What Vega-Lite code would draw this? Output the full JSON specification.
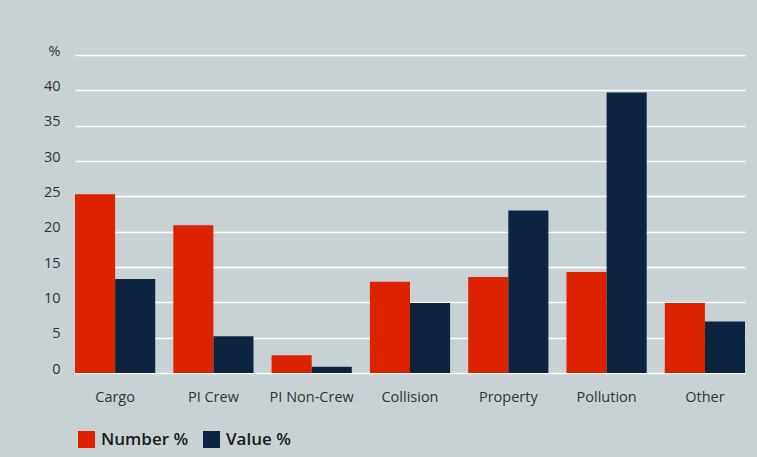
{
  "$schema": "https://vega.github.io/schema/vega-lite/v6.json",
  "autosize": {"type": "none"},
  "width": 670,
  "height": 318,
  "padding": {"left": 75, "top": 55, "right": 12, "bottom": 84},
  "background": "#c8d2d5",
  "config": {
    "view": {"stroke": null},
    "font": "Open Sans",
    "axis": {"labelFont": "Open Sans", "labelColor": "#333333"}
  },
  "data": {
    "values": [
      {"cat": "Cargo", "series": "Number %", "v": 25.3},
      {"cat": "Cargo", "series": "Value %", "v": 13.3},
      {"cat": "PI Crew", "series": "Number %", "v": 20.9},
      {"cat": "PI Crew", "series": "Value %", "v": 5.2},
      {"cat": "PI Non-Crew", "series": "Number %", "v": 2.5},
      {"cat": "PI Non-Crew", "series": "Value %", "v": 0.9},
      {"cat": "Collision", "series": "Number %", "v": 12.9},
      {"cat": "Collision", "series": "Value %", "v": 9.9},
      {"cat": "Property", "series": "Number %", "v": 13.6},
      {"cat": "Property", "series": "Value %", "v": 23.0},
      {"cat": "Pollution", "series": "Number %", "v": 14.3},
      {"cat": "Pollution", "series": "Value %", "v": 39.7},
      {"cat": "Other", "series": "Number %", "v": 9.9},
      {"cat": "Other", "series": "Value %", "v": 7.3}
    ]
  },
  "mark": {"type": "bar"},
  "encoding": {
    "x": {
      "field": "cat",
      "type": "nominal",
      "sort": null,
      "scale": {"paddingInner": 0.184, "paddingOuter": 0},
      "axis": {
        "title": null,
        "labelAngle": 0,
        "domain": false,
        "ticks": false,
        "labelPadding": 17,
        "labelFontSize": 14.5
      }
    },
    "xOffset": {"field": "series", "type": "nominal", "sort": null},
    "y": {
      "field": "v",
      "type": "quantitative",
      "scale": {"domain": [0, 45], "nice": false},
      "axis": {
        "title": null,
        "values": [0, 5, 10, 15, 20, 25, 30, 35, 40, 45],
        "labelExpr": "datum.value == 45 ? '%' : datum.label",
        "domain": false,
        "ticks": false,
        "grid": true,
        "gridColor": "#ffffff",
        "gridOpacity": 1,
        "gridWidth": 1.5,
        "labelPadding": 15,
        "labelFontSize": 14.5,
        "labelBaseline": "alphabetic"
      }
    },
    "color": {
      "field": "series",
      "type": "nominal",
      "scale": {"domain": ["Number %", "Value %"], "range": ["#dd2200", "#0c2440"]},
      "legend": {
        "title": null,
        "orient": "none",
        "legendX": 3,
        "legendY": 376,
        "direction": "horizontal",
        "symbolType": "square",
        "symbolSize": 289,
        "symbolStrokeWidth": 0,
        "symbolOpacity": 1,
        "labelFontSize": 17,
        "labelFontWeight": 600,
        "labelColor": "#1a1a1a",
        "labelOffset": 6,
        "columnPadding": 14
      }
    }
  }
}
